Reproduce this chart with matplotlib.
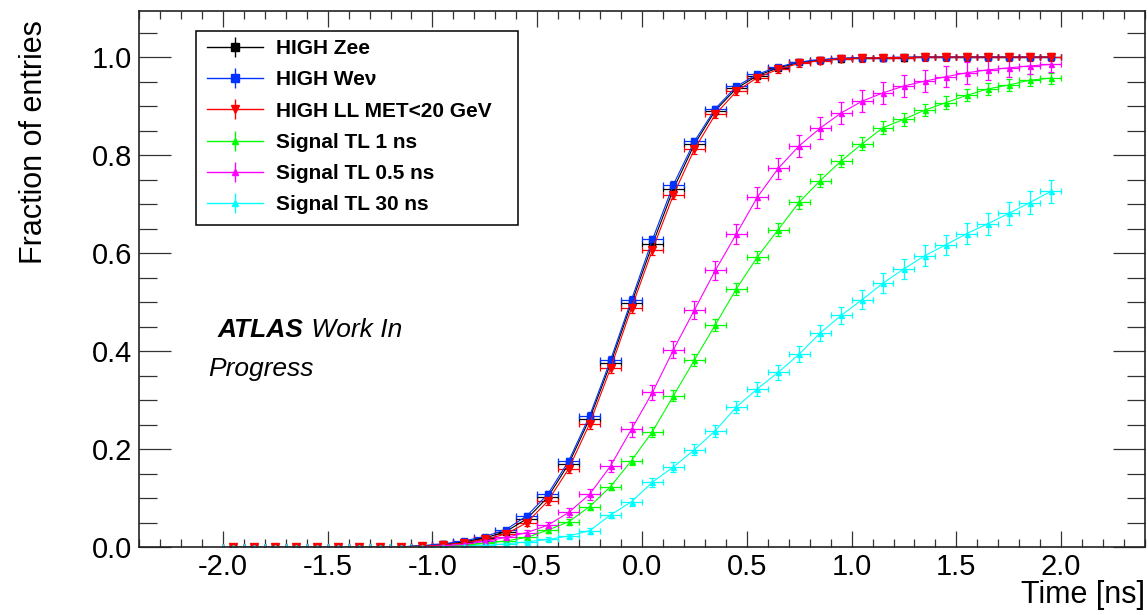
import matplotlib
matplotlib.use("Agg")
import matplotlib.pyplot as plt
from matplotlib.lines import Line2D
from matplotlib.legend_handler import HandlerTuple
from matplotlib.patches import Rectangle
import numpy as np


# bin centres (bin width 0.1 ns)
time_bins = [-1.95, -1.85, -1.75, -1.65, -1.55, -1.45, -1.35, -1.25, -1.15, -1.05,
             -0.95, -0.85, -0.75, -0.65, -0.55, -0.45, -0.35, -0.25, -0.15, -0.05,
             0.05, 0.15, 0.25, 0.35, 0.45, 0.55, 0.65, 0.75, 0.85, 0.95,
             1.05, 1.15, 1.25, 1.35, 1.45, 1.55, 1.65, 1.75, 1.85, 1.95]
bin_half_width = 0.05

high_zee = [0.0, 0.0, 0.0, 0.0, 0.0, 0.0, 0.0, 0.0, 0.001, 0.003,
            0.006, 0.011, 0.019, 0.032, 0.058, 0.102, 0.170, 0.262, 0.375, 0.498,
            0.618, 0.731, 0.822, 0.891, 0.936, 0.962, 0.978, 0.989, 0.994, 0.997,
            0.998, 0.999, 0.999, 1.0, 1.0, 1.0, 1.0, 1.0, 1.0, 1.0]
high_zee_err = [0.001, 0.001, 0.001, 0.001, 0.001, 0.001, 0.001, 0.001, 0.001, 0.002,
                0.002, 0.003, 0.004, 0.004, 0.005, 0.006, 0.007, 0.007, 0.008, 0.008,
                0.008, 0.007, 0.006, 0.005, 0.004, 0.004, 0.003, 0.003, 0.002, 0.002,
                0.002, 0.002, 0.002, 0.002, 0.002, 0.002, 0.002, 0.002, 0.002, 0.002]

high_wenu = [0.0, 0.0, 0.0, 0.0, 0.0, 0.0, 0.0, 0.0, 0.001, 0.003,
             0.007, 0.013, 0.022, 0.036, 0.064, 0.108, 0.176, 0.268, 0.382, 0.505,
             0.628, 0.740, 0.828, 0.895, 0.940, 0.965, 0.980, 0.990, 0.995, 0.998,
             0.999, 0.999, 1.0, 1.0, 1.0, 1.0, 1.0, 1.0, 1.0, 1.0]
high_wenu_err = [0.001, 0.001, 0.001, 0.001, 0.001, 0.001, 0.001, 0.001, 0.001, 0.002,
                 0.002, 0.003, 0.004, 0.004, 0.005, 0.006, 0.007, 0.007, 0.008, 0.008,
                 0.008, 0.007, 0.006, 0.005, 0.004, 0.004, 0.003, 0.003, 0.002, 0.002,
                 0.002, 0.002, 0.002, 0.002, 0.002, 0.002, 0.002, 0.002, 0.002, 0.002]

high_ll = [0.0, 0.0, 0.0, 0.0, 0.0, 0.0, 0.0, 0.0, 0.001, 0.002,
           0.005, 0.009, 0.016, 0.027, 0.050, 0.094, 0.160, 0.252, 0.365, 0.488,
           0.607, 0.719, 0.812, 0.883, 0.930, 0.958, 0.975, 0.987, 0.993, 0.997,
           0.998, 0.999, 0.999, 1.0, 1.0, 1.0, 1.0, 1.0, 1.0, 1.0]
high_ll_err = [0.002, 0.002, 0.002, 0.002, 0.002, 0.002, 0.002, 0.002, 0.002, 0.003,
               0.003, 0.004, 0.005, 0.006, 0.007, 0.008, 0.009, 0.010, 0.010, 0.010,
               0.010, 0.009, 0.009, 0.008, 0.008, 0.008, 0.008, 0.008, 0.008, 0.008,
               0.008, 0.008, 0.008, 0.008, 0.008, 0.008, 0.008, 0.008, 0.008, 0.008]

signal_1ns = [0.0, 0.0, 0.0, 0.0, 0.0, 0.0, 0.0, 0.0, 0.0, 0.001,
              0.002, 0.004, 0.008, 0.013, 0.020, 0.035, 0.052, 0.083, 0.124, 0.177,
              0.236, 0.309, 0.382, 0.454, 0.527, 0.592, 0.648, 0.704, 0.748, 0.788,
              0.823, 0.856, 0.873, 0.892, 0.907, 0.922, 0.935, 0.943, 0.953, 0.957]
signal_1ns_err = [0.001, 0.001, 0.001, 0.001, 0.001, 0.001, 0.001, 0.001, 0.001, 0.001,
                  0.002, 0.002, 0.003, 0.003, 0.004, 0.005, 0.006, 0.007, 0.008, 0.009,
                  0.010, 0.011, 0.012, 0.012, 0.013, 0.013, 0.013, 0.013, 0.013, 0.013,
                  0.013, 0.013, 0.013, 0.013, 0.013, 0.012, 0.012, 0.012, 0.012, 0.011]

signal_05ns = [0.0, 0.0, 0.0, 0.0, 0.0, 0.0, 0.0, 0.0, 0.0, 0.001,
               0.003, 0.006, 0.012, 0.020, 0.030, 0.045, 0.071, 0.108, 0.166, 0.241,
               0.316, 0.403, 0.484, 0.565, 0.639, 0.714, 0.773, 0.819, 0.855, 0.886,
               0.910, 0.927, 0.941, 0.951, 0.960, 0.968, 0.974, 0.978, 0.982, 0.985]
signal_05ns_err = [0.001, 0.001, 0.001, 0.001, 0.001, 0.001, 0.001, 0.001, 0.001, 0.002,
                   0.002, 0.003, 0.004, 0.005, 0.006, 0.007, 0.009, 0.011, 0.013, 0.015,
                   0.016, 0.017, 0.018, 0.019, 0.020, 0.021, 0.022, 0.022, 0.023, 0.023,
                   0.023, 0.023, 0.023, 0.022, 0.022, 0.022, 0.020, 0.018, 0.017, 0.016]

signal_30ns = [0.0, 0.0, 0.0, 0.0, 0.0, 0.0, 0.0, 0.0, 0.0, 0.0,
               0.001, 0.002, 0.004, 0.007, 0.011, 0.016, 0.023, 0.034, 0.066, 0.093,
               0.133, 0.164, 0.199, 0.238, 0.286, 0.323, 0.357, 0.394, 0.437, 0.473,
               0.505, 0.539, 0.568, 0.595, 0.617, 0.640, 0.660, 0.681, 0.703, 0.726]
signal_30ns_err = [0.001, 0.001, 0.001, 0.001, 0.001, 0.001, 0.001, 0.001, 0.001, 0.001,
                   0.001, 0.002, 0.002, 0.003, 0.003, 0.004, 0.005, 0.006, 0.007, 0.008,
                   0.009, 0.010, 0.011, 0.012, 0.013, 0.014, 0.015, 0.016, 0.017, 0.018,
                   0.019, 0.020, 0.020, 0.021, 0.021, 0.022, 0.022, 0.023, 0.023, 0.024]

series_labels = ["HIGH Zee", "HIGH We\u03bd", "HIGH LL MET<20 GeV",
                 "Signal TL 1 ns", "Signal TL 0.5 ns", "Signal TL 30 ns"]
series_values = [high_zee, high_wenu, high_ll, signal_1ns, signal_05ns, signal_30ns]
series_errors = [high_zee_err, high_wenu_err, high_ll_err,
                 signal_1ns_err, signal_05ns_err, signal_30ns_err]
series_colors = ["#000000", "#0033ff", "#ff0000", "#00ff00", "#ff00ff", "#00ffff"]
series_markers = ["s", "s", "v", "^", "^", "^"]
series_msizes = [5.0, 5.0, 5.8, 3.6, 3.6, 3.6]


def main():
    plt.rcParams["font.family"] = ["Liberation Sans", "DejaVu Sans"]
    plt.rcParams["axes.unicode_minus"] = False

    fig = plt.figure(figsize=(11.48, 6.15), dpi=100)
    W, H = 1148.0, 615.0
    ax_left, ax_right, ax_top, ax_bottom = 139.0, 1145.0, 11.0, 547.3
    ax = fig.add_axes([ax_left / W, 1 - ax_bottom / H,
                       (ax_right - ax_left) / W, (ax_bottom - ax_top) / H])

    x = np.array(time_bins)
    handles = []
    for label, vals, errs, col, mk, ms in zip(series_labels, series_values, series_errors,
                                              series_colors, series_markers, series_msizes):
        ax.errorbar(x, vals, xerr=bin_half_width, yerr=errs, fmt="-" + mk,
                    color=col, mfc=col, mec=col, ms=ms, lw=0.8,
                    elinewidth=0.9, capsize=2.5, capthick=0.9)
        # legend entry: line + marker with a vertical error bar through it
        line = Line2D([], [], color=col, lw=1.0, marker=mk, ms=ms + 0.6, mfc=col, mec=col)
        vbar = Line2D([], [], color=col, lw=0, marker="|", ms=14, mew=1.0)
        handles.append((line, vbar))

    ax.set_xlim(-2.4, 2.4)
    ax.set_ylim(0.0, 1.094)
    ax.set_xticks(np.arange(-2.0, 2.01, 0.5))
    ax.set_xticks(np.arange(-2.4, 2.41, 0.1), minor=True)
    ax.set_yticks(np.arange(0.0, 1.01, 0.2))
    ax.set_yticks(np.arange(0.0, 1.09, 0.05), minor=True)
    ax.xaxis.set_major_formatter(matplotlib.ticker.FormatStrFormatter("%.1f"))
    ax.yaxis.set_major_formatter(matplotlib.ticker.FormatStrFormatter("%.1f"))

    ax.tick_params(axis="both", which="both", direction="in", top=True, right=True,
                   color="#333333", width=0.9, labelsize=21)
    ax.tick_params(axis="x", which="major", length=11.3, pad=4)
    ax.tick_params(axis="x", which="minor", length=5.5)
    ax.tick_params(axis="y", which="major", length=23, pad=5)
    ax.tick_params(axis="y", which="minor", length=13)
    for sp in ax.spines.values():
        sp.set_linewidth(1.2)
        sp.set_color("#222222")

    fig.text(34 / W, 1 - 20 / H, "Fraction of entries", rotation=90,
             ha="center", va="top", fontsize=22)
    fig.text(1145 / W, 1 - 603 / H, "Time [ns]", ha="right", va="baseline", fontsize=22)

    # ATLAS label
    atlas = fig.text(218 / W, 1 - 337 / H, "ATLAS", fontsize=19, fontweight="bold",
                     fontstyle="italic", va="baseline", ha="left")
    ax.annotate(" Work In", xy=(1, 0), xycoords=atlas, fontsize=19, fontstyle="italic",
                va="bottom", ha="left")
    fig.text(208 / W, 1 - 376 / H, "Progress", fontsize=19, fontstyle="italic",
             va="baseline", ha="left")

    # legend with separate square frame
    def to_axes(px, py):
        return ((px - ax_left) / (ax_right - ax_left), (ax_bottom - py) / (ax_bottom - ax_top))

    bx0, by0 = to_axes(196, 225)
    bx1, by1 = to_axes(518, 31)
    ax.add_patch(Rectangle((bx0, by0), bx1 - bx0, by1 - by0, transform=ax.transAxes,
                           fill=True, facecolor="white", edgecolor="black", lw=1.1, zorder=5))
    lx, ly = to_axes(207, 39)
    leg = ax.legend(handles=handles, labels=series_labels, loc="upper left",
                    bbox_to_anchor=(lx, ly), borderaxespad=0, borderpad=0,
                    frameon=False, handlelength=2.7, handletextpad=0.63,
                    labelspacing=0.59, prop={"size": 15, "weight": "bold"},
                    handler_map={tuple: HandlerTuple(ndivide=1)})
    leg.set_zorder(6)

    fig.savefig("out.png", dpi=100)
    plt.close(fig)


if __name__ == "__main__":
    main()
